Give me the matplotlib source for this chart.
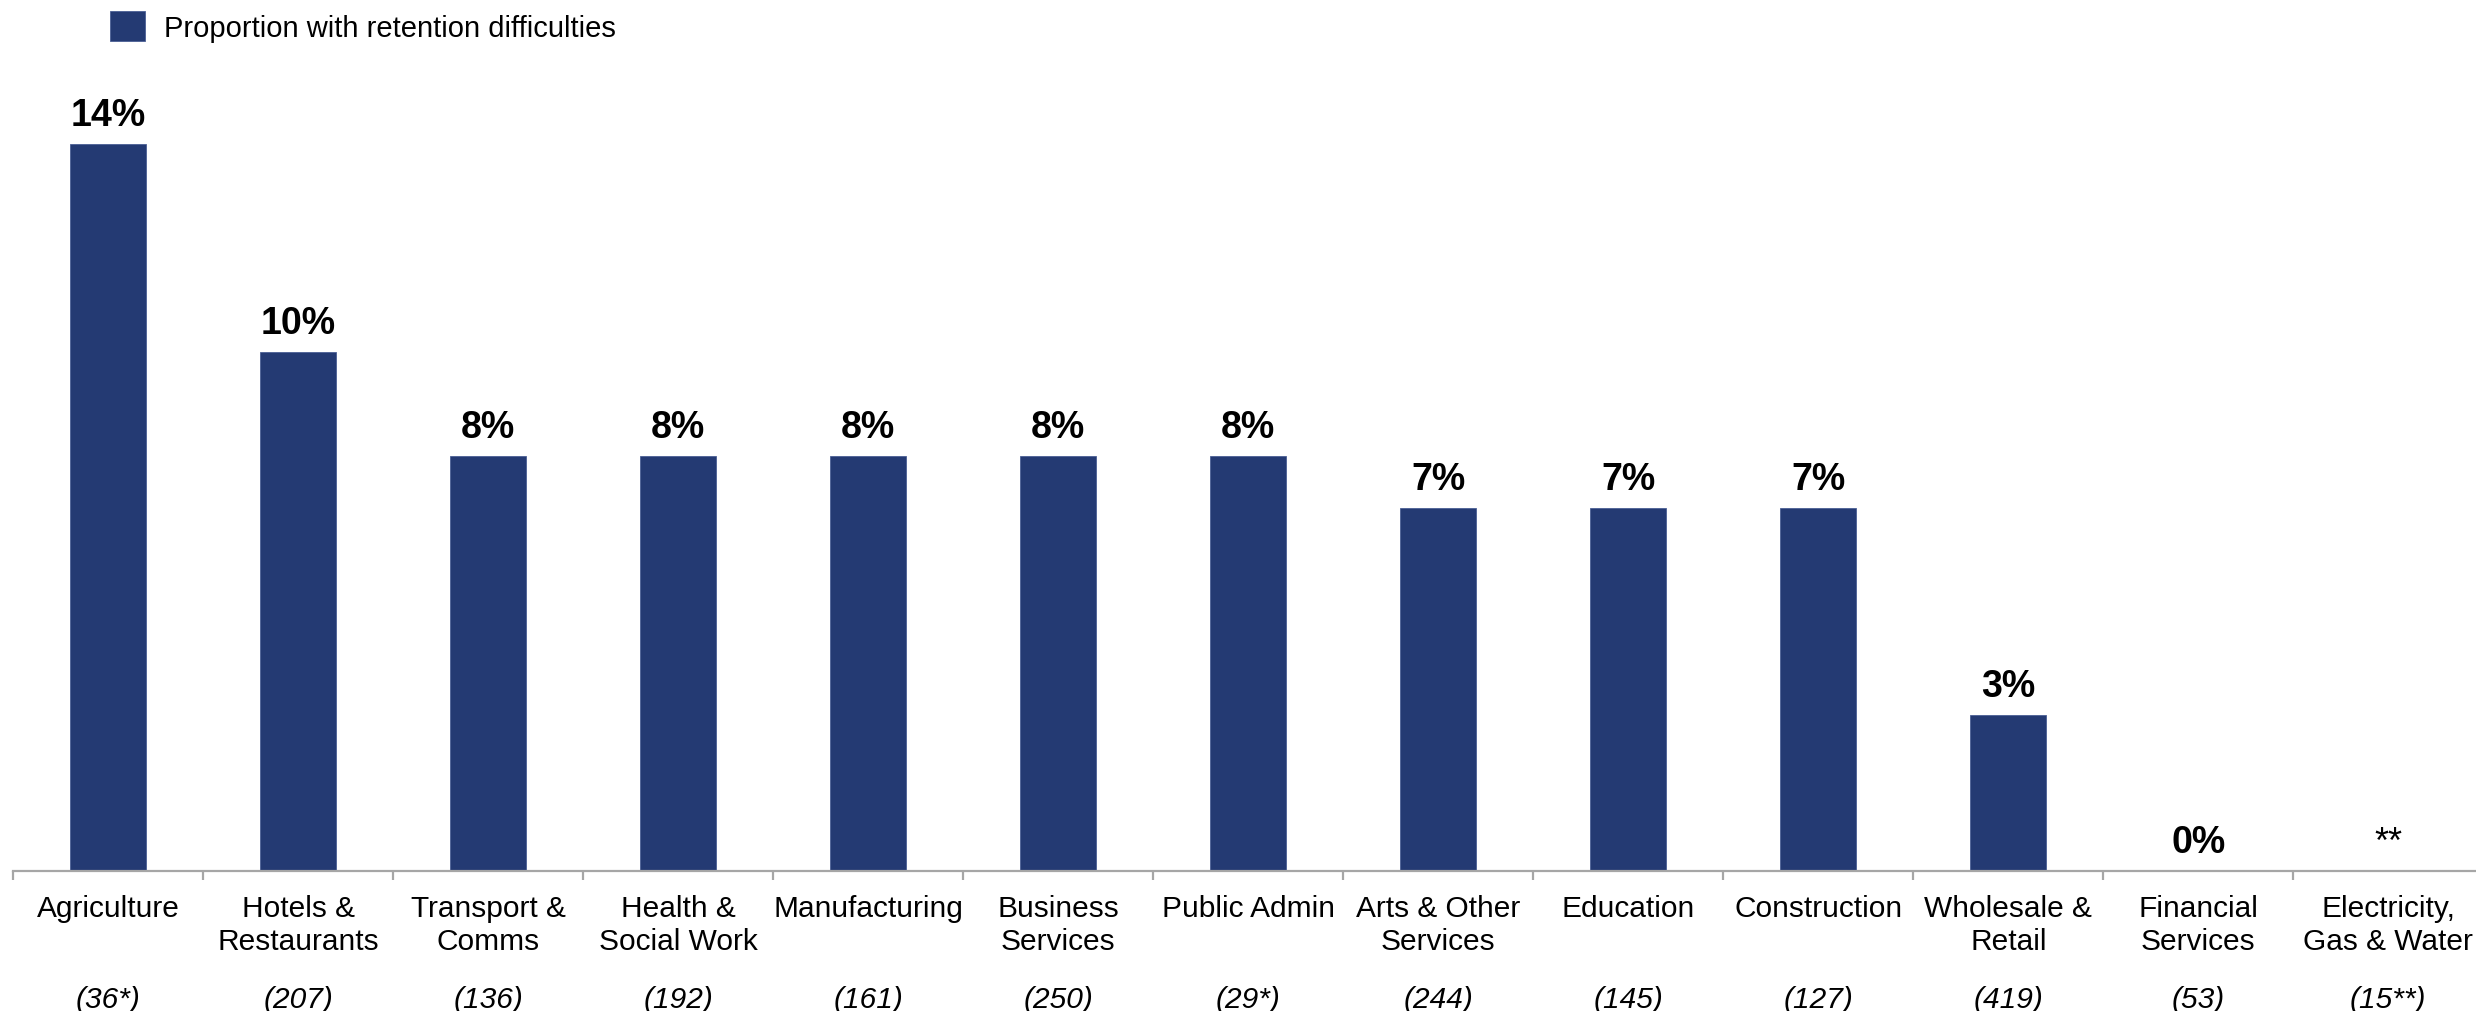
import numpy as np
import matplotlib
matplotlib.use("Agg")
import matplotlib.pyplot as plt
from matplotlib.ticker import FixedLocator

plt.rcParams['font.family'] = ['Liberation Sans', 'DejaVu Sans']

# Retention difficulties by sector (share of establishments, %)
sectors = ['Agriculture', 'Hotels &\nRestaurants', 'Transport &\nComms', 'Health &\nSocial Work',
           'Manufacturing', 'Business\nServices', 'Public Admin', 'Arts & Other\nServices',
           'Education', 'Construction', 'Wholesale &\nRetail', 'Financial\nServices',
           'Electricity,\nGas & Water']
retention_pct = [14, 10, 8, 8, 8, 8, 8, 7, 7, 7, 3, 0, np.nan]
base_sizes = ['(36*)', '(207)', '(136)', '(192)', '(161)', '(250)', '(29*)', '(244)',
              '(145)', '(127)', '(419)', '(53)', '(15**)']

BAR_COLOR = '#243a73'
AXIS_GRAY = '#a6a6a6'

W, H, DPI = 2476, 1012, 100
fig = plt.figure(figsize=(W / DPI, H / DPI), dpi=DPI)

# axis line sits at y=872px, one category slot is 190px wide
ax = fig.add_axes([13.3 / W, (H - 872) / H, 13 * 190 / W, 872 / H])

x = np.arange(len(sectors))
heights = np.nan_to_num(retention_pct)
bars = ax.bar(x, heights, width=0.4, color=BAR_COLOR, edgecolor='#4a5f95', linewidth=0.6,
              label='Proportion with retention difficulties')

ax.set_xlim(-0.5, len(sectors) - 0.5)
ax.set_ylim(0, 872 / 51.9)

# value labels; suppressed base shown as **
for xi, v in zip(x, retention_pct):
    if np.isnan(v):
        ax.annotate('**', (xi, 0), xytext=(0, 13.7), textcoords='offset points',
                    ha='center', va='baseline', fontsize=26, color='black')
    else:
        ax.annotate(f'{v:.0f}%', (xi, v), xytext=(0, 13.7), textcoords='offset points',
                    ha='center', va='baseline', fontsize=27, fontweight='bold', color='black')

for s in ['left', 'top', 'right']:
    ax.spines[s].set_visible(False)
ax.spines['bottom'].set_color(AXIS_GRAY)
ax.spines['bottom'].set_linewidth(1.6)
ax.yaxis.set_visible(False)

ax.set_xticks(x)
ax.set_xticklabels(sectors, fontsize=21.5, linespacing=1.22)
ax.tick_params(axis='x', which='major', length=0, pad=16.5)
ax.xaxis.set_minor_locator(FixedLocator(np.arange(-0.5, len(sectors), 1.0)))
ax.tick_params(axis='x', which='minor', length=6.5, width=1.6, color=AXIS_GRAY, direction='out')

# base sizes under each sector name
for xi, n in zip(x, base_sizes):
    ax.text(xi, -(1008 - 872) / 872, n, transform=ax.get_xaxis_transform(),
            ha='center', va='baseline', fontsize=21.5, style='italic', color='black')

ax.legend(handles=[bars], loc='upper left', bbox_to_anchor=(110 / W, 1 - 12 / H),
          bbox_transform=fig.transFigure, frameon=False, fontsize=21,
          handlelength=1.2, handleheight=1.2, handletextpad=0.64,
          borderpad=0, borderaxespad=0)

fig.savefig('out.png', dpi=DPI)
